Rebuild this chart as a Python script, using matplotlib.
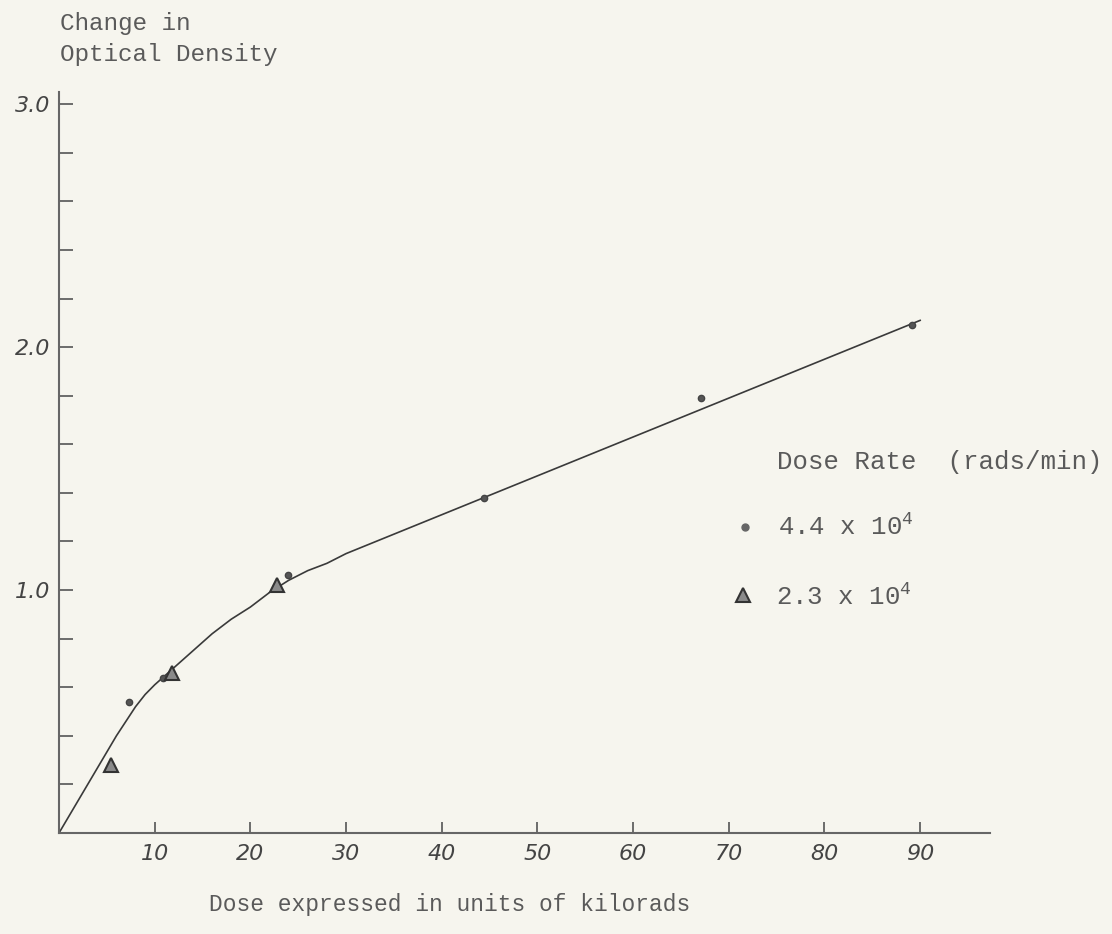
import matplotlib
matplotlib.use("Agg")
import matplotlib.pyplot as plt
from matplotlib.ticker import MultipleLocator

# readings taken off the scanned graph
dose_circles = [7.3, 10.9, 23.9, 44.4, 67.1, 89.2]
od_circles = [0.54, 0.64, 1.06, 1.38, 1.79, 2.09]

dose_triangles = [5.4, 11.8, 22.8]
od_triangles = [0.28, 0.66, 1.02]

# hand-drawn fitted curve
curve_dose = [0, 3, 6, 8, 9, 10, 12, 14, 16, 18, 20, 22, 24, 26, 28, 30, 40, 50, 60, 70, 80, 90]
curve_od = [0, 0.20, 0.40, 0.52, 0.57, 0.61, 0.68, 0.75, 0.82, 0.88, 0.93, 0.99, 1.04, 1.08, 1.11,
            1.15, 1.31, 1.47, 1.63, 1.79, 1.95, 2.11]

x_ticks = [10, 20, 30, 40, 50, 60, 70, 80, 90]
y_ticks = [1.0, 2.0, 3.0]
y_labels = ["1.0", "2.0", "3.0"]

paper = "#f6f5ee"
ink = "#3a3a3a"
type_ink = "#5a5a5a"

plt.rcParams["mathtext.fontset"] = "custom"
plt.rcParams["mathtext.rm"] = "Liberation Mono"
plt.rcParams["mathtext.it"] = "Liberation Mono"

fig = plt.figure(figsize=(11.12, 9.34), dpi=100, facecolor=paper)
ax = fig.add_axes([59 / 1112, 101 / 934, 931 / 1112, 741 / 934])
ax.set_facecolor(paper)

ax.plot(curve_dose, curve_od, color=ink, lw=1.2)
ax.plot(dose_circles, od_circles, "o", ms=4.5, color="#555555", mec="#444444")
ax.plot(dose_triangles, od_triangles, "^", ms=10, color="#8a8a8a", mec="#333333", mew=1.5)

ax.set_xlim(0, 97.3)
ax.set_ylim(0, 3.05)
for s in ["top", "right"]:
    ax.spines[s].set_visible(False)
for s in ["left", "bottom"]:
    ax.spines[s].set_color("#666666")
    ax.spines[s].set_linewidth(1.5)

ax.set_xticks(x_ticks)
ax.set_xticklabels([str(v) for v in x_ticks], fontsize=16, style="italic", color="#444444",
                   family="DejaVu Sans")
ax.set_yticks(y_ticks)
ax.set_yticklabels(y_labels, fontsize=16, style="italic", color="#444444", family="DejaVu Sans")
ax.yaxis.set_minor_locator(MultipleLocator(0.2))
ax.tick_params(axis="x", direction="in", length=8, width=1.2, color="#555555", pad=8)
ax.tick_params(axis="y", which="both", direction="in", length=10, width=1.2, color="#555555", pad=6)
ax.tick_params(axis="y", which="minor", labelleft=False)

mono = "Liberation Mono"
fig.text(60 / 1112, 1 - 12 / 934, "Change in\nOptical Density", family=mono, fontsize=17.5,
         color=type_ink, va="top", ha="left", linespacing=1.45)
fig.text(450 / 1112, 1 - 905 / 934, "Dose expressed in units of kilorads", family=mono,
         fontsize=16.5, color=type_ink, ha="center", va="center")

fig.text(777 / 1112, 1 - 462 / 934, "Dose Rate  (rads/min)", family=mono, fontsize=18.5,
         color=type_ink, ha="left", va="center")
fig.text(778 / 1112, 1 - 527 / 934, r"4.4 x 10$^{4}$", family=mono, fontsize=18.5,
         color=type_ink, ha="left", va="center")
fig.text(776 / 1112, 1 - 597 / 934, r"2.3 x 10$^{4}$", family=mono, fontsize=18.5,
         color=type_ink, ha="left", va="center")
fig.lines.append(plt.Line2D([745 / 1112], [1 - 527 / 934], marker="o", ms=5, color="#666666",
                            transform=fig.transFigure))
fig.lines.append(plt.Line2D([743 / 1112], [1 - 595 / 934], marker="^", ms=10, color="#8a8a8a",
                            mec="#333333", mew=1.5, transform=fig.transFigure))

fig.savefig("out.png", dpi=100, facecolor=paper)
